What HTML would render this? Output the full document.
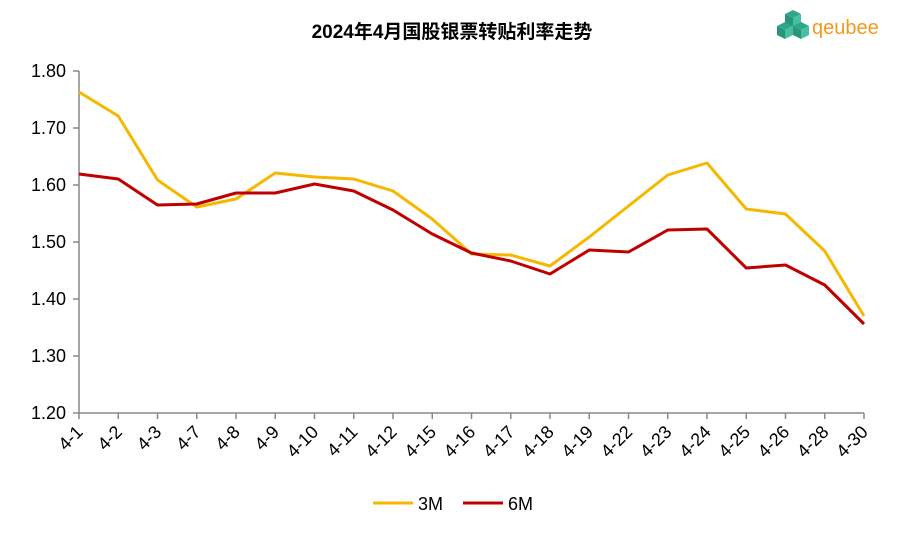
<!DOCTYPE html>
<html><head><meta charset="utf-8"><style>body{margin:0;background:#fff}</style></head><body>
<svg width="904" height="533" xmlns="http://www.w3.org/2000/svg" font-family="Liberation Sans, Arial, sans-serif">
<text x="452" y="38" text-anchor="middle" font-size="19" font-weight="bold" font-family="Liberation Sans, Noto Sans CJK SC, sans-serif">2024年4月国股银票转贴利率走势</text>
<g fill="#2fa58a">
<polygon points="785,14 793,10 801,14 793,18"/><polygon points="785,14 793,18 793,27 785,23" fill="#27957a"/><polygon points="793,18 801,14 801,23 793,27" fill="#46c0a0"/>
<polygon points="777,26 785,22 793,26 785,30"/><polygon points="777,26 785,30 785,39 777,35" fill="#27957a"/><polygon points="785,30 793,26 793,35 785,39" fill="#46c0a0"/>
<polygon points="793,26 801,22 809,26 801,30"/><polygon points="793,26 801,30 801,39 793,35" fill="#27957a"/><polygon points="801,30 809,26 809,35 801,39" fill="#46c0a0"/>
</g>
<text x="812" y="34" font-size="20" fill="#f39a1e">qeubee</text>
<g font-size="18" fill="#000" text-anchor="end">
<text x="66" y="77">1.80</text><text x="66" y="134">1.70</text><text x="66" y="191">1.60</text><text x="66" y="248">1.50</text><text x="66" y="305">1.40</text><text x="66" y="362">1.30</text><text x="66" y="419">1.20</text>
</g>
<g stroke="#888" stroke-width="1.5">
<line x1="79" y1="71" x2="79" y2="413"/><line x1="73" y1="413" x2="864" y2="413"/>
<line x1="73" y1="71" x2="79" y2="71"/><line x1="73" y1="128" x2="79" y2="128"/><line x1="73" y1="185" x2="79" y2="185"/><line x1="73" y1="242" x2="79" y2="242"/><line x1="73" y1="299" x2="79" y2="299"/><line x1="73" y1="356" x2="79" y2="356"/>
</g>
<g id="xt" stroke="#888" stroke-width="1.5"></g>
<g id="xl" font-size="18" text-anchor="end"></g>
<polyline id="s3" fill="none" stroke="#f5b800" stroke-width="3" stroke-linejoin="round"/>
<polyline id="s6" fill="none" stroke="#c00000" stroke-width="3" stroke-linejoin="round"/>
<line x1="373" y1="503" x2="413" y2="503" stroke="#f5b800" stroke-width="3"/>
<text x="418" y="510" font-size="18">3M</text>
<line x1="463" y1="503" x2="503" y2="503" stroke="#c00000" stroke-width="3"/>
<text x="508" y="510" font-size="18">6M</text>
</svg>
<script>
var L=["4-1","4-2","4-3","4-7","4-8","4-9","4-10","4-11","4-12","4-15","4-16","4-17","4-18","4-19","4-22","4-23","4-24","4-25","4-26","4-28","4-30"];
var a=[92,116,180,207,199,173,177,179,191,219,254,255,266,237,206,175,163,209,214,251,316];
var b=[174,179,205,204,193,193,184,191,210,234,253,261,274,250,252,230,229,268,265,285,324];
var ns="http://www.w3.org/2000/svg",xt=document.getElementById("xt"),xl=document.getElementById("xl"),p3=[],p6=[];
for(var i=0;i<21;i++){var x=79+i*39.25;
var t=document.createElementNS(ns,"line");t.setAttribute("x1",x);t.setAttribute("x2",x);t.setAttribute("y1",413);t.setAttribute("y2",419);xt.appendChild(t);
var s=document.createElementNS(ns,"text");s.setAttribute("transform","translate("+(x+5)+",433) rotate(-45)");s.textContent=L[i];xl.appendChild(s);
p3.push(x+","+a[i]);p6.push(x+","+b[i]);}
document.getElementById("s3").setAttribute("points",p3.join(" "));
document.getElementById("s6").setAttribute("points",p6.join(" "));
</script>
</body></html>
